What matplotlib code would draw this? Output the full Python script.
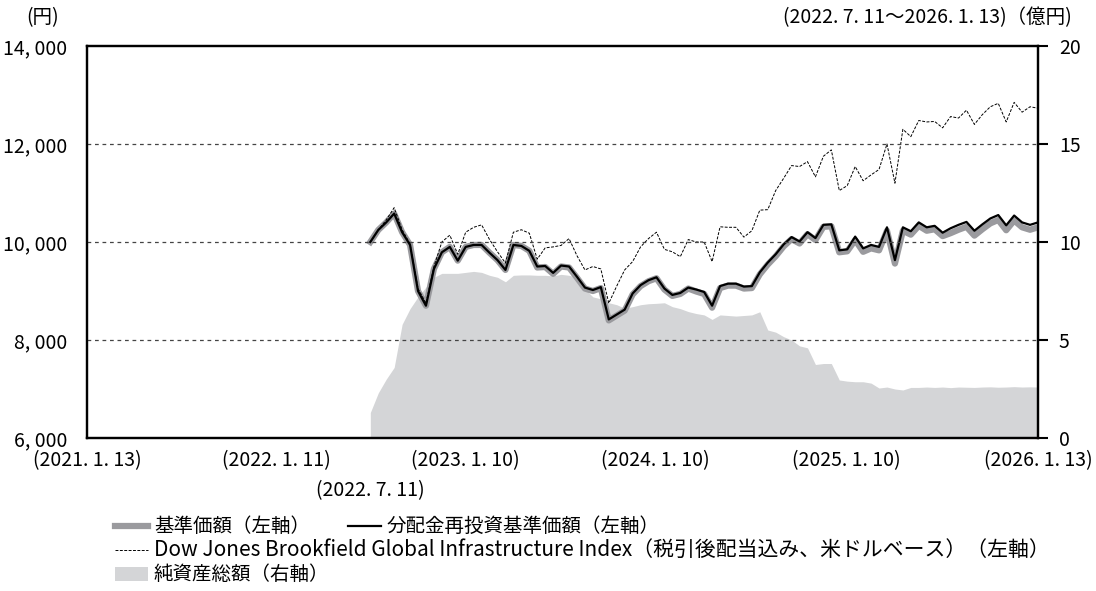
import numpy as np
import pandas as pd
import matplotlib
matplotlib.use("Agg")
import matplotlib.pyplot as plt
from matplotlib.ticker import FuncFormatter
from matplotlib.lines import Line2D
from matplotlib.patches import Rectangle
from matplotlib.transforms import blended_transform_factory

plt.rcParams['font.family'] = ['Noto Sans CJK JP', 'DejaVu Sans']

# 分配金再投資基準価額 (円)
reinvest = [
    10000, 10245, 10400, 10580, 10200, 9940, 9000, 8700, 9450, 9790,
    9900, 9620, 9900, 9940, 9940, 9780, 9630, 9430, 9940, 9920,
    9820, 9500, 9510, 9370, 9520, 9500, 9290, 9070, 9020, 9080,
    8420, 8520, 8620, 8950, 9120, 9220, 9280, 9050, 8920, 8960,
    9070, 9030, 8980, 8700, 9100, 9150, 9150, 9090, 9100, 9380,
    9580, 9750, 9950, 10100, 10010, 10200, 10080, 10350, 10360, 9830,
    9850, 10110, 9870, 9940, 9900, 10300, 9630, 10300, 10220, 10400,
    10300, 10330, 10190, 10280, 10350, 10410, 10230, 10360, 10480, 10550,
    10340, 10540, 10400, 10350, 10400]

# 基準価額 (円)
nav = [
    10000, 10245, 10400, 10580, 10200, 9940, 9000, 8700, 9450, 9790,
    9900, 9620, 9900, 9940, 9940, 9780, 9630, 9430, 9940, 9920,
    9820, 9480, 9490, 9350, 9500, 9480, 9270, 9050, 9000, 9060,
    8400, 8500, 8600, 8930, 9100, 9200, 9260, 9030, 8900, 8940,
    9050, 8990, 8940, 8660, 9060, 9110, 9110, 9050, 9060, 9340,
    9540, 9710, 9910, 10060, 9970, 10160, 10040, 10310, 10320, 9790,
    9810, 10040, 9800, 9870, 9830, 10230, 9560, 10230, 10150, 10330,
    10230, 10260, 10120, 10180, 10250, 10310, 10130, 10260, 10380, 10450,
    10240, 10440, 10300, 10250, 10300]

# Dow Jones Brookfield Global Infrastructure Index (10000起点)
index = [
    10000, 10245, 10450, 10700, 10250, 9960, 9050, 8750, 9500, 10000,
    10140, 9750, 10200, 10300, 10350, 10050, 9800, 9570, 10200, 10250,
    10180, 9650, 9880, 9900, 9930, 10070, 9720, 9430, 9500, 9450,
    8750, 9100, 9430, 9600, 9900, 10070, 10200, 9850, 9800, 9700,
    10050, 10000, 10000, 9600, 10310, 10300, 10300, 10100, 10230, 10650,
    10660, 11050, 11300, 11560, 11540, 11640, 11330, 11750, 11880, 11050,
    11150, 11540, 11250, 11370, 11480, 12000, 11200, 12300, 12150, 12480,
    12450, 12460, 12330, 12560, 12530, 12690, 12400, 12600, 12760, 12830,
    12450, 12850, 12650, 12760, 12730]

# 純資産総額 (億円)
net_assets = [
    1.3, 2.3, 3.0, 3.6, 5.8, 6.6, 7.2, 7.7, 8.2, 8.4,
    8.4, 8.4, 8.45, 8.5, 8.45, 8.3, 8.2, 7.97, 8.3, 8.32,
    8.32, 8.3, 8.3, 8.27, 8.35, 8.3, 8.2, 7.6, 7.2, 7.1,
    6.9, 6.8, 6.62, 6.7, 6.8, 6.85, 6.87, 6.9, 6.7, 6.6,
    6.45, 6.35, 6.28, 6.05, 6.28, 6.25, 6.22, 6.25, 6.28, 6.44,
    5.51, 5.4, 5.17, 5.0, 4.7, 4.6, 3.75, 3.8, 3.8, 2.96,
    2.9, 2.87, 2.87, 2.8, 2.55, 2.6, 2.5, 2.45, 2.58, 2.58,
    2.6, 2.58, 2.6, 2.57, 2.6, 2.59, 2.58, 2.6, 2.61, 2.59,
    2.6, 2.62, 2.6, 2.61, 2.6]

dates = pd.date_range("2022-07-11", "2026-01-13", periods=len(reinvest))

tick_dates = ["2021-01-13", "2022-01-11", "2023-01-10",
              "2024-01-10", "2025-01-10", "2026-01-13"]
tick_labels = ["(2021. 1. 13)", "(2022. 1. 11)", "(2023. 1. 10)",
               "(2024. 1. 10)", "(2025. 1. 10)", "(2026. 1. 13)"]
start_label = "(2022. 7. 11)"

FS = 14
fig = plt.figure(figsize=(10.96, 5.91), dpi=100)
ax = fig.add_axes([87 / 1096, 1 - 438 / 591, (1038 - 87) / 1096, (438 - 46) / 591])
ax2 = ax.twinx()

# net assets area on right axis
ax2.fill_between(dates, 0, net_assets, color="#d4d5d7", linewidth=0)
ax2.set_ylim(0, 20)
ax2.set_yticks([0, 5, 10, 15, 20])
ax2.tick_params(axis="y", direction="out", length=7, width=1.5, pad=8, labelsize=FS)

ax.set_zorder(ax2.get_zorder() + 1)
ax.patch.set_visible(False)

ax.plot(dates, nav, color="#9a9a9e", lw=4.5, solid_joinstyle="round")
ax.plot(dates, reinvest, color="black", lw=1.6)
ax.plot(dates, index, color="black", lw=0.7, ls=(0, (3, 1.5)))

ax.set_xlim(pd.Timestamp("2021-01-13"), pd.Timestamp("2026-01-13"))
ax.set_ylim(6000, 14000)
ax.set_yticks([6000, 8000, 10000, 12000, 14000])
ax.yaxis.set_major_formatter(FuncFormatter(lambda v, p: f"{v:,.0f}".replace(",", ", ")))
ax.tick_params(axis="y", length=0, pad=14, labelsize=FS)
ax.set_xticks(pd.to_datetime(tick_dates))
ax.set_xticklabels(tick_labels)
ax.tick_params(axis="x", length=0, pad=9, labelsize=FS)
trans = blended_transform_factory(ax.transData, fig.transFigure)
ax.text(pd.Timestamp("2022-07-11"), 1 - 491 / 591, start_label, transform=trans,
        ha="center", va="center", fontsize=FS)
for yv in [8000, 10000, 12000]:
    ax.axhline(yv, color="#444444", lw=0.9, ls=(0, (3, 3)))

for a in (ax, ax2):
    for s in a.spines.values():
        s.set_linewidth(1.6)
        s.set_color("black")

fig.text(43 / 1096, 1 - 18 / 591, "(円)", ha="center", va="center", fontsize=FS)
fig.text(1072 / 1096, 1 - 18 / 591, "(2022. 7. 11～2026. 1. 13)（億円)",
         ha="right", va="center", fontsize=FS)

# legend
def fy(py):
    return 1 - py / 591

def fx(px):
    return px / 1096

fig.add_artist(Line2D([fx(115), fx(148)], [fy(526), fy(526)], color="#9a9a9e", lw=4.5))
fig.text(fx(154), fy(526), "基準価額（左軸）", va="center", fontsize=FS)
fig.add_artist(Line2D([fx(348), fx(381)], [fy(526), fy(526)], color="black", lw=1.6))
fig.text(fx(387), fy(526), "分配金再投資基準価額（左軸）", va="center", fontsize=FS)
fig.add_artist(Line2D([fx(115), fx(148)], [fy(550), fy(550)], color="black", lw=0.7,
                      ls=(0, (3, 1.5))))
fig.text(fx(154), fy(550),
         "Dow Jones Brookfield Global Infrastructure Index（税引後配当込み、米ドルベース）（左軸）",
         va="center", fontsize=15)
fig.add_artist(Rectangle((fx(115), fy(581)), fx(148) - fx(115), fy(567) - fy(581),
                         color="#d4d5d7", lw=0, transform=fig.transFigure))
fig.text(fx(154), fy(574), "純資産総額（右軸）", va="center", fontsize=FS)

fig.savefig("out.png", dpi=100)
